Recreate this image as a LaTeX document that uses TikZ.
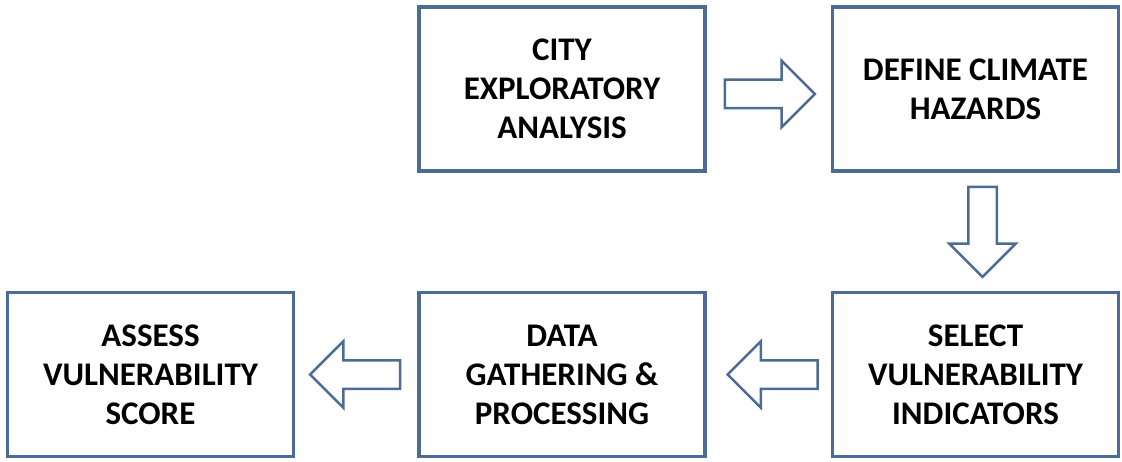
\documentclass[tikz,border=0pt]{standalone}
\usepackage{fontspec}
\setmainfont{Carlito}
\usetikzlibrary{positioning,shapes.arrows,calc}
\definecolor{stageblue}{RGB}{76,108,148}
\begin{document}
\begin{tikzpicture}[x=1pt, y=1pt,
  stage/.style={draw=stageblue, line width=3.5pt, shape=rectangle,
    minimum width=286pt, minimum height=164pt, align=center,
    font=\fontsize{33}{39}\selectfont\bfseries},
  flow/.style={draw=stageblue, line width=2.5pt, fill=white, single arrow,
    single arrow head extend=19pt, single arrow head indent=0pt,
    inner sep=13pt, minimum height=90pt}]
\useasboundingbox (0,0) rectangle (1122,-462);
\node (city) [stage] at (562,-89) {CITY\\EXPLORATORY\\ANALYSIS};
\node (define) [stage, right=124pt of city] {DEFINE CLIMATE\\HAZARDS};
\node (select) [stage, below=118pt of define] {SELECT\\VULNERABILITY\\INDICATORS};
\node (data) [stage, left=124pt of select] {DATA\\GATHERING \&\\PROCESSING};
\node (assess) [stage, left=122pt of data] {ASSESS\\VULNERABILITY\\SCORE};
\node (cityarrow) [flow] at ($(city.east)!0.5!(define.west)+(-6,-5)$) {};
\node (definearrow) [flow, rotate=-90] at ($(define.south)!0.5!(select.north)+(7,7)$) {};
\node (selectarrow) [flow, rotate=180] at ($(select.west)!0.5!(data.east)+(11,0)$) {};
\node (dataarrow) [flow, rotate=180] at ($(data.west)!0.5!(assess.east)+(6,0)$) {};
\end{tikzpicture}
\end{document}
